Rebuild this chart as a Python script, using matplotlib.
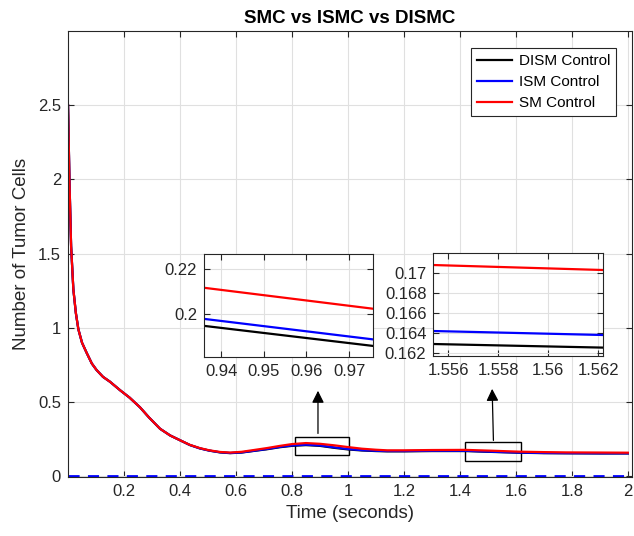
import matplotlib
matplotlib.use('Agg')
import matplotlib.pyplot as plt
from matplotlib.patches import Rectangle

plt.rcParams['font.family'] = ['Liberation Sans', 'DejaVu Sans']

# main time response
t = [0, 0.005, 0.011, 0.019, 0.028, 0.037, 0.05, 0.067, 0.085, 0.102, 0.125, 0.15,
     0.186, 0.22, 0.257, 0.29, 0.329, 0.365, 0.4, 0.435, 0.471, 0.505, 0.543, 0.579,
     0.62, 0.66, 0.71, 0.757, 0.8, 0.85, 0.9, 0.95, 1.0, 1.05, 1.1, 1.14, 1.2, 1.3,
     1.42, 1.52, 1.61, 1.7, 1.78, 1.9, 2.0]
sm = [2.5, 2.0, 1.55, 1.26, 1.1, 0.99, 0.9, 0.83, 0.76, 0.716, 0.67, 0.637,
      0.58, 0.53, 0.465, 0.395, 0.32, 0.275, 0.243, 0.212, 0.19, 0.175, 0.164, 0.16,
      0.165, 0.176, 0.19, 0.205, 0.217, 0.224, 0.219, 0.209, 0.197, 0.186, 0.179, 0.175, 0.175, 0.177,
      0.178, 0.172, 0.166, 0.163, 0.161, 0.16, 0.159]
ism = [2.5, 2.0, 1.55, 1.26, 1.1, 0.99, 0.9, 0.83, 0.76, 0.716, 0.67, 0.637,
       0.58, 0.53, 0.465, 0.395, 0.32, 0.275, 0.243, 0.211, 0.188, 0.173, 0.162, 0.157,
       0.161, 0.171, 0.184, 0.198, 0.208, 0.213, 0.208, 0.195, 0.184, 0.176, 0.172, 0.170, 0.170, 0.172,
       0.172, 0.165, 0.16, 0.157, 0.156, 0.155, 0.155]
dism = [2.5, 2.0, 1.55, 1.26, 1.1, 0.99, 0.9, 0.83, 0.76, 0.716, 0.67, 0.637,
        0.58, 0.53, 0.465, 0.395, 0.32, 0.275, 0.243, 0.211, 0.188, 0.173, 0.161, 0.156,
        0.160, 0.170, 0.182, 0.196, 0.205, 0.210, 0.205, 0.192, 0.181, 0.174, 0.170, 0.168, 0.168, 0.170,
        0.170, 0.164, 0.159, 0.156, 0.155, 0.154, 0.154]

# zoomed segments
z1_t = [0.936, 0.9756]
z1_sm = [0.2117, 0.2024]
z1_ism = [0.1979, 0.1888]
z1_dism = [0.1948, 0.1859]

z2_t = [1.5554, 1.5622]
z2_sm = [0.17083, 0.17033]
z2_ism = [0.16423, 0.16383]
z2_dism = [0.16293, 0.16257]

xticks = [0.2, 0.4, 0.6, 0.8, 1.0, 1.2, 1.4, 1.6, 1.8, 2.0]
xlabels = ['0.2', '0.4', '0.6', '0.8', '1', '1.2', '1.4', '1.6', '1.8', '2']
yticks = [0, 0.5, 1, 1.5, 2, 2.5]
ylabels = ['0', '0.5', '1', '1.5', '2', '2.5']

AX_COL = '0.15'
GRID_COL = '0.88'


def style(ax):
    ax.tick_params(direction='in', colors=AX_COL, labelsize=12, length=4,
                   top=True, right=True, labelcolor=AX_COL, pad=5)
    for s in ax.spines.values():
        s.set_color(AX_COL)
        s.set_linewidth(0.8)
    ax.grid(True, color=GRID_COL, linewidth=0.8)
    ax.set_axisbelow(True)


def main():
    fig = plt.figure(figsize=(6.34, 5.36), dpi=100)
    ax = fig.add_axes([0.1073, 0.110, 0.8896, 0.832])

    ax.plot(t, dism, color='black', lw=1.6, label='DISM Control')
    ax.plot(t, ism, color='blue', lw=1.6, label='ISM Control')
    ax.plot(t, sm, color='red', lw=1.6, label='SM Control')
    ax.plot([0, 2.02], [0, 0], color='blue', lw=2, ls=(0, (4, 3)))

    ax.set_xlim(0, 2.015)
    ax.set_ylim(-0.005, 3.0)
    ax.set_xticks(xticks)
    ax.set_xticklabels(xlabels)
    ax.set_yticks(yticks)
    ax.set_yticklabels(ylabels)
    style(ax)

    ax.set_title('SMC vs ISMC vs DISMC', fontsize=13.5, fontweight='bold', pad=6)
    ax.set_xlabel('Time (seconds)', fontsize=13.5, color=AX_COL, labelpad=4)
    ax.set_ylabel('Number of Tumor Cells', fontsize=13.5, color=AX_COL, labelpad=6)

    leg = ax.legend(loc='upper right', bbox_to_anchor=(0.9716, 0.9104),
                    bbox_transform=fig.transFigure, fontsize=11, fancybox=False,
                    framealpha=1, edgecolor=AX_COL, borderpad=0.4, borderaxespad=0,
                    handlelength=2.3, handletextpad=0.4, labelspacing=0.45)
    leg.get_frame().set_linewidth(0.8)

    # boxes around zoomed regions
    ax.add_patch(Rectangle((0.81, 0.142), 0.193, 0.122, fill=False, ec='black', lw=1))
    ax.add_patch(Rectangle((1.42, 0.10), 0.20, 0.13, fill=False, ec='black', lw=1))
    arw = dict(arrowstyle='-|>', color='black', lw=0.9, mutation_scale=18)
    ax.annotate('', xy=(0.893, 0.595), xytext=(0.893, 0.27), arrowprops=arw)
    ax.annotate('', xy=(1.515, 0.608), xytext=(1.52, 0.223), arrowprops=arw)

    # inset 1
    a1 = fig.add_axes([0.3218, 0.334, 0.2666, 0.1922])
    a1.plot(z1_t, z1_dism, color='black', lw=1.6)
    a1.plot(z1_t, z1_ism, color='blue', lw=1.6)
    a1.plot(z1_t, z1_sm, color='red', lw=1.6)
    a1.set_xlim(0.936, 0.9756)
    a1.set_ylim(0.181, 0.2267)
    a1.set_xticks([0.94, 0.95, 0.96, 0.97])
    a1.set_xticklabels(['0.94', '0.95', '0.96', '0.97'])
    a1.set_yticks([0.2, 0.22])
    a1.set_yticklabels(['0.2', '0.22'])
    style(a1)

    # inset 2
    a2 = fig.add_axes([0.6835, 0.3358, 0.2681, 0.1927])
    a2.plot(z2_t, z2_dism, color='black', lw=1.6)
    a2.plot(z2_t, z2_ism, color='blue', lw=1.6)
    a2.plot(z2_t, z2_sm, color='red', lw=1.6)
    a2.set_xlim(1.5554, 1.5622)
    a2.set_ylim(0.16173, 0.17206)
    a2.set_xticks([1.556, 1.558, 1.56, 1.562])
    a2.set_xticklabels(['1.556', '1.558', '1.56', '1.562'])
    a2.set_yticks([0.162, 0.164, 0.166, 0.168, 0.17])
    a2.set_yticklabels(['0.162', '0.164', '0.166', '0.168', '0.17'])
    style(a2)

    fig.savefig('out.png', dpi=100)


if __name__ == "__main__":
    main()
